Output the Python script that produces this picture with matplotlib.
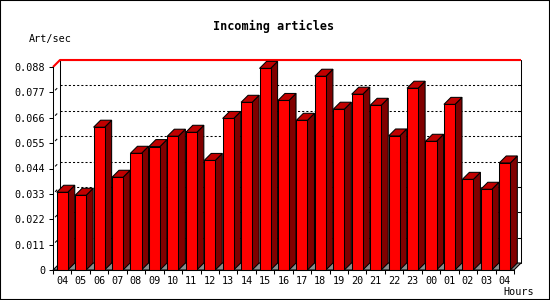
import matplotlib
matplotlib.use("Agg")
import matplotlib.pyplot as plt
import numpy as np
from matplotlib.patches import Polygon, Rectangle

HOURS = ["04", "05", "06", "07", "08", "09", "10", "11", "12", "13", "14", "15",
         "16", "17", "18", "19", "20", "21", "22", "23", "00", "01", "02", "03", "04"]
ART_PER_SEC = [0.0337, 0.0324, 0.0619, 0.0402, 0.0506, 0.0535, 0.0580, 0.0597,
               0.0475, 0.0657, 0.0727, 0.0874, 0.0735, 0.0649, 0.0840, 0.0697,
               0.0762, 0.0714, 0.0581, 0.0788, 0.0558, 0.0718, 0.0393, 0.0350,
               0.0464]
Y_TICKS = [0, 0.011, 0.022, 0.033, 0.044, 0.055, 0.066, 0.077, 0.088]
Y_LABELS = ["0", "0.011", "0.022", "0.033", "0.044", "0.055", "0.066", "0.077", "0.088"]

FRONT = "#ff0000"
SIDE = "#800000"
TOP = "#c00000"
FLOOR = "#8c8c8c"
MONO = "DejaVu Sans Mono"
LW = 0.75

W, H = 550, 300
AX_L, AX_B, AX_W, AX_H = 53, 30, 461, 203   # front plot area in pixels
DEPTH = 7                                    # 3d offset in pixels

fig = plt.figure(figsize=(5.5, 3), dpi=100)
ax = fig.add_axes([AX_L / W, AX_B / H, AX_W / W, AX_H / H])
n = len(HOURS)
x0, x1 = -0.5, n - 0.5
ytop = Y_TICKS[-1]
ax.set_xlim(x0, x1)
ax.set_ylim(0, ytop)
ax.patch.set_visible(False)

dx = DEPTH * (x1 - x0) / AX_W
dy = DEPTH * ytop / AX_H

# back wall + grid
ax.add_patch(Rectangle((x0 + dx, dy), x1 - x0, ytop, facecolor="white",
                       edgecolor="black", lw=LW, clip_on=False, zorder=0))
for t in Y_TICKS[1:-1]:
    ax.plot([x0 + dx, x1 + dx], [t + dy, t + dy], color="black", lw=LW,
            ls=(0, (2, 2)), clip_on=False, zorder=0.5)
    # inward ticks on the back right edge
    ax.plot([x1 + dx - 3 * dx / DEPTH, x1 + dx], [t + dy, t + dy], color="black",
            lw=LW, clip_on=False, zorder=0.5)
    # small depth ticks near the left axis
    ax.plot([x0 + 0.35 * dx, x0 + 0.55 * dx], [t + 0.35 * dy, t + 0.55 * dy],
            color="black", lw=LW, clip_on=False, zorder=0.5)
ax.plot([x0, x0 + dx, x1 + dx], [ytop, ytop + dy, ytop + dy], color="red",
        lw=1.5, clip_on=False, zorder=0.6, solid_capstyle="butt")

# floor
ax.add_patch(Polygon([(x0, 0), (x1, 0), (x1 + dx, dy), (x0 + dx, dy)],
                     closed=True, facecolor=FLOOR, edgecolor="black", lw=LW,
                     clip_on=False, zorder=0.7))

# bars
half = 0.3
for i, v in enumerate(ART_PER_SEC):
    l, r = i - half, i + half
    ax.add_patch(Polygon([(r, 0), (r + dx, dy), (r + dx, v + dy), (r, v)],
                         closed=True, facecolor=SIDE, edgecolor="black", lw=LW,
                         clip_on=False, zorder=1))
    ax.add_patch(Polygon([(l, v), (r, v), (r + dx, v + dy), (l + dx, v + dy)],
                         closed=True, facecolor=TOP, edgecolor="black", lw=LW,
                         clip_on=False, zorder=1))
    ax.add_patch(Rectangle((l, 0), r - l, v, facecolor=FRONT, edgecolor="black",
                           lw=LW, clip_on=False, zorder=1))

# axes
for s in ("top", "right"):
    ax.spines[s].set_visible(False)
for s in ("left", "bottom"):
    ax.spines[s].set_linewidth(LW)
    ax.spines[s].set_zorder(3)

ax.set_yticks(Y_TICKS)
ax.set_yticklabels(Y_LABELS, family=MONO, fontsize=7.3)
ax.tick_params(axis="y", direction="out", length=3, width=LW, pad=2.5)

ax.set_xticks(np.arange(x0, x1 + 0.01, 1.0))
ax.set_xticklabels([])
ax.tick_params(axis="x", which="major", direction="out", length=3, width=LW)
ax.set_xticks(range(n), minor=True)
ax.set_xticklabels(HOURS, minor=True, family=MONO, fontsize=7.3)
ax.tick_params(axis="x", which="minor", length=0, pad=4)

fig.text(274 / W, 1 - 26.7 / H, "Incoming articles", ha="center", va="center",
         family=MONO, fontsize=8.5, fontweight="bold")
fig.text(29 / W, 1 - 39 / H, "Art/sec", ha="left", va="center", family=MONO, fontsize=7.3)
fig.text(534 / W, 1 - 292 / H, "Hours", ha="right", va="center", family=MONO, fontsize=7.3)

fig.add_artist(Rectangle((0, 0), 1, 1, transform=fig.transFigure, fill=False,
                         edgecolor="black", lw=1.5))

fig.savefig("out.png", dpi=100, facecolor="white")
